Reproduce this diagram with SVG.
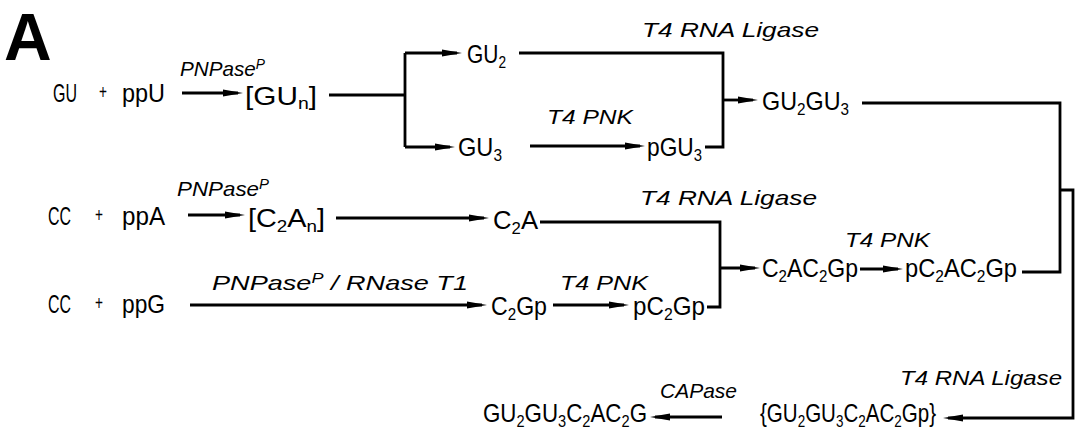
<svg xmlns="http://www.w3.org/2000/svg" width="1077" height="440" viewBox="0 0 1077 440">
<defs>
<marker id="ah" markerUnits="userSpaceOnUse" markerWidth="20" markerHeight="10" refX="15" refY="5" orient="auto"><path d="M0,1.6 L20,5 L0,8.4 Z" fill="#000"/></marker>
<style>
.t{font-family:"Liberation Sans",Arial,sans-serif;font-size:26px;fill:#000}
.i{font-family:"Liberation Sans",Arial,sans-serif;font-style:italic;font-size:21px;fill:#000}
.s{font-size:17px}
.sp{font-size:14px}
.pl{font-size:20px}
.big{font-family:"Liberation Sans",Arial,sans-serif;font-weight:bold;font-size:66px;fill:#000}
.ln{stroke:#000;stroke-width:2.8;fill:none}
.ar{marker-end:url(#ah)}
</style>
</defs>
<rect width="1077" height="440" fill="#fff"/>
<text class="big" x="4" y="60">A</text>

<g id="connectors">
<path class="ln ar" d="M182,93 H238"/>
<path class="ln" d="M329,95 H405 M405,53 V147"/>
<path class="ln ar" d="M405,53 H457"/>
<path class="ln ar" d="M405,147 H450"/>
<path class="ln" d="M519,53 H723 V147 H705"/>
<path class="ln ar" d="M530,146 H640"/>
<path class="ln ar" d="M723,100 H753"/>
<path class="ln" d="M862,103 H1060 V272 H1022"/>
<path class="ln ar" d="M1060,190 H1073 V418 H948"/>
<path class="ln ar" d="M188,215 H240"/>
<path class="ln ar" d="M336,218 H484"/>
<path class="ln" d="M540,222 H720 V307 H707"/>
<path class="ln ar" d="M720,268 H755"/>
<path class="ln ar" d="M860,269 H898"/>
<path class="ln ar" d="M190,305 H482"/>
<path class="ln ar" d="M553,305 H624"/>
<path class="ln ar" d="M722,417 H655"/>
</g>

<g id="enzymes">
<text class="i" x="180" y="76" textLength="85" lengthAdjust="spacingAndGlyphs">PNPase<tspan class="sp" dy="-7">P</tspan></text>
<text class="i" x="642" y="37" textLength="177" lengthAdjust="spacingAndGlyphs">T4  RNA  Ligase</text>
<text class="i" x="547" y="124" textLength="86" lengthAdjust="spacingAndGlyphs">T4  PNK</text>
<text class="i" x="177" y="196" textLength="92" lengthAdjust="spacingAndGlyphs">PNPase<tspan class="sp" dy="-7">P</tspan></text>
<text class="i" x="640" y="205" textLength="177" lengthAdjust="spacingAndGlyphs">T4  RNA  Ligase</text>
<text class="i" x="845" y="247" textLength="85" lengthAdjust="spacingAndGlyphs">T4  PNK</text>
<text class="i" x="212" y="290" textLength="256" lengthAdjust="spacingAndGlyphs">PNPase<tspan class="sp" dy="-7">P</tspan><tspan dy="7">  /  RNase  T1</tspan></text>
<text class="i" x="560" y="290" textLength="88" lengthAdjust="spacingAndGlyphs">T4  PNK</text>
<text class="i" x="900" y="385" textLength="162" lengthAdjust="spacingAndGlyphs">T4  RNA  Ligase</text>
<text class="i" x="660" y="398" textLength="77" lengthAdjust="spacingAndGlyphs">CAPase</text>
</g>

<g id="n-gu-ppu">
<text class="t" x="53" y="102" textLength="24" lengthAdjust="spacingAndGlyphs">GU</text>
<text class="t pl" x="99" y="99" textLength="8" lengthAdjust="spacingAndGlyphs">+</text>
<text class="t" x="122" y="102" textLength="43" lengthAdjust="spacingAndGlyphs">ppU</text>
</g>
<g id="n-gun"><text class="t" x="245" y="105" textLength="72" lengthAdjust="spacingAndGlyphs">[GU<tspan class="s" dy="4">n</tspan><tspan dy="-4">]</tspan></text></g>
<g id="n-gu2"><text class="t" x="467" y="63" textLength="39" lengthAdjust="spacingAndGlyphs">GU<tspan class="s" dy="5">2</tspan></text></g>
<g id="n-gu3"><text class="t" x="458" y="156" textLength="44" lengthAdjust="spacingAndGlyphs">GU<tspan class="s" dy="5">3</tspan></text></g>
<g id="n-pgu3"><text class="t" x="647" y="156" textLength="55" lengthAdjust="spacingAndGlyphs">pGU<tspan class="s" dy="5">3</tspan></text></g>
<g id="n-gu2gu3"><text class="t" x="762" y="110" textLength="87" lengthAdjust="spacingAndGlyphs">GU<tspan class="s" dy="5">2</tspan><tspan dy="-5">GU</tspan><tspan class="s" dy="5">3</tspan></text></g>

<g id="n-cc-ppa">
<text class="t" x="48" y="225" textLength="23" lengthAdjust="spacingAndGlyphs">CC</text>
<text class="t pl" x="95" y="222" textLength="8" lengthAdjust="spacingAndGlyphs">+</text>
<text class="t" x="122" y="225" textLength="43" lengthAdjust="spacingAndGlyphs">ppA</text>
</g>
<g id="n-c2an"><text class="t" x="248" y="227" textLength="77" lengthAdjust="spacingAndGlyphs">[C<tspan class="s" dy="5">2</tspan><tspan dy="-5">A</tspan><tspan class="s" dy="5">n</tspan><tspan dy="-5">]</tspan></text></g>
<g id="n-c2a"><text class="t" x="493" y="229" textLength="45" lengthAdjust="spacingAndGlyphs">C<tspan class="s" dy="5">2</tspan><tspan dy="-5">A</tspan></text></g>
<g id="n-c2ac2gp"><text class="t" x="762" y="277" textLength="96" lengthAdjust="spacingAndGlyphs">C<tspan class="s" dy="5">2</tspan><tspan dy="-5">AC</tspan><tspan class="s" dy="5">2</tspan><tspan dy="-5">Gp</tspan></text></g>
<g id="n-pc2ac2gp"><text class="t" x="905" y="277" textLength="112" lengthAdjust="spacingAndGlyphs">pC<tspan class="s" dy="5">2</tspan><tspan dy="-5">AC</tspan><tspan class="s" dy="5">2</tspan><tspan dy="-5">Gp</tspan></text></g>

<g id="n-cc-ppg">
<text class="t" x="48" y="313" textLength="23" lengthAdjust="spacingAndGlyphs">CC</text>
<text class="t pl" x="95" y="310" textLength="8" lengthAdjust="spacingAndGlyphs">+</text>
<text class="t" x="122" y="313" textLength="43" lengthAdjust="spacingAndGlyphs">ppG</text>
</g>
<g id="n-c2gp"><text class="t" x="491" y="315" textLength="56" lengthAdjust="spacingAndGlyphs">C<tspan class="s" dy="5">2</tspan><tspan dy="-5">Gp</tspan></text></g>
<g id="n-pc2gp"><text class="t" x="633" y="315" textLength="72" lengthAdjust="spacingAndGlyphs">pC<tspan class="s" dy="5">2</tspan><tspan dy="-5">Gp</tspan></text></g>

<g id="n-product-p"><text class="t" x="760" y="422" textLength="176" lengthAdjust="spacingAndGlyphs">{GU<tspan class="s" dy="5">2</tspan><tspan dy="-5">GU</tspan><tspan class="s" dy="5">3</tspan><tspan dy="-5">C</tspan><tspan class="s" dy="5">2</tspan><tspan dy="-5">AC</tspan><tspan class="s" dy="5">2</tspan><tspan dy="-5">Gp}</tspan></text></g>
<g id="n-product"><text class="t" x="483" y="422" textLength="164" lengthAdjust="spacingAndGlyphs">GU<tspan class="s" dy="5">2</tspan><tspan dy="-5">GU</tspan><tspan class="s" dy="5">3</tspan><tspan dy="-5">C</tspan><tspan class="s" dy="5">2</tspan><tspan dy="-5">AC</tspan><tspan class="s" dy="5">2</tspan><tspan dy="-5">G</tspan></text></g>
</svg>
